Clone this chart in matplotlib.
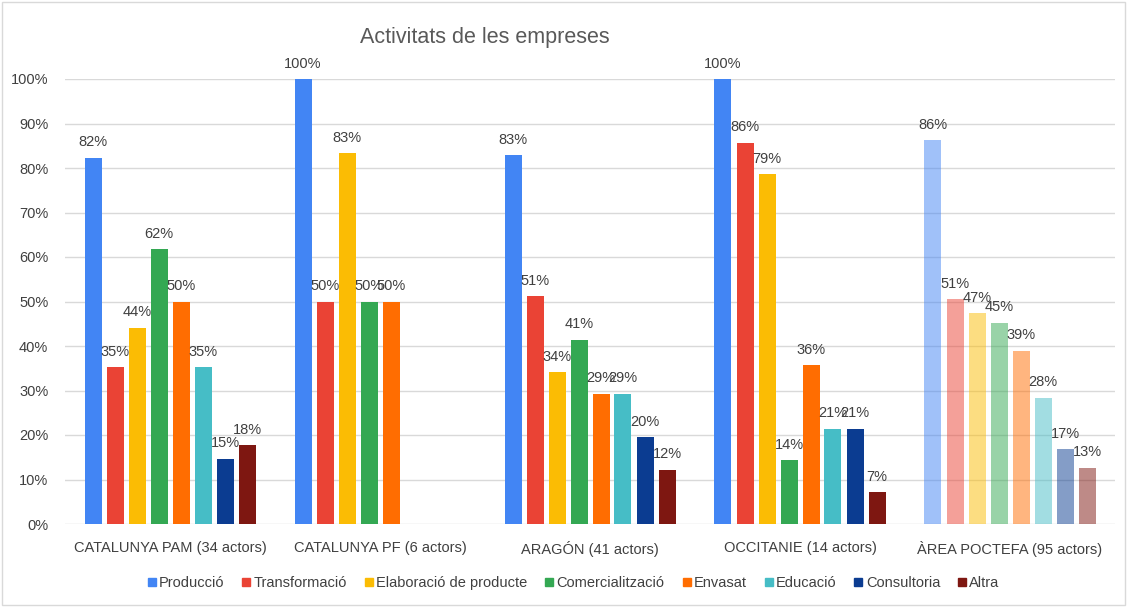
import matplotlib.pyplot as plt
import numpy as np
from matplotlib.patches import Rectangle
from matplotlib.lines import Line2D

plt.rcParams['font.family'] = ['Liberation Sans', 'DejaVu Sans']

groups = ["CATALUNYA PAM (34 actors)", "CATALUNYA PF (6 actors)", "ARAGÓN (41 actors)",
          "OCCITANIE (14 actors)", "ÀREA POCTEFA (95 actors)"]
series = ["Producció", "Transformació", "Elaboració de producte", "Comercialització",
          "Envasat", "Educació", "Consultoria", "Altra"]
colors = ["#4285F4", "#EA4335", "#FBBC04", "#34A853", "#FF6D01", "#46BDC6", "#0B3C91", "#7E1711"]

# percentatges per activitat (un valor per grup)
produccio = [82.35, 100.0, 82.93, 100.0, 86.32]
transformacio = [35.29, 50.0, 51.22, 85.71, 50.53]
elaboracio = [44.12, 83.33, 34.15, 78.57, 47.37]
comercialitzacio = [61.76, 50.0, 41.46, 14.29, 45.26]
envasat = [50.0, 50.0, 29.27, 35.71, 38.95]
educacio = [35.29, None, 29.27, 21.43, 28.42]
consultoria = [14.71, None, 19.51, 21.43, 16.84]
altra = [17.65, None, 12.20, 7.14, 12.63]
values = [produccio, transformacio, elaboracio, comercialitzacio, envasat, educacio, consultoria, altra]

fig = plt.figure(figsize=(11.27, 6.07), dpi=100)
ax = fig.add_axes([65 / 1127, 1 - 524 / 607, 1050 / 1127, 445 / 607])

n = len(series)
step = 22 / 210
width = 17 / 210
x = np.arange(len(groups))
for i, (name, vals, c) in enumerate(zip(series, values, colors)):
    off = (i - (n - 1) / 2) * step
    for g, v in enumerate(vals):
        if v is None:
            continue
        alpha = 0.5 if g == len(groups) - 1 else 1.0
        ax.bar(x[g] + off, v, width=width, color=c, alpha=alpha, zorder=3)
        ax.annotate(f"{v:.0f}%", (x[g] + off, v), xytext=(0, 6), textcoords='offset points',
                    ha='center', va='bottom', fontsize=10.5, color='#404040')

ax.set_xlim(-0.5, len(groups) - 0.5)
ax.set_ylim(0, 100)
ax.set_yticks(np.arange(0, 101, 10))
ax.set_yticklabels([f"{t}%" for t in range(0, 101, 10)])
ax.set_xticks(x)
ax.set_xticklabels(groups)
ax.tick_params(axis='both', length=0, labelsize=10.5, colors='#404040')
ax.tick_params(axis='x', pad=12)
ax.tick_params(axis='y', pad=12)
ax.grid(axis='y', color='#d9d9d9', linewidth=1, zorder=0)
for s in ax.spines.values():
    s.set_visible(False)

fig.text(485 / 1127, 1 - 38 / 607, "Activitats de les empreses", ha='center', va='center',
         fontsize=15.5, color='#595959')

handles = [Line2D([], [], marker='s', linestyle='', markersize=6, color=c) for c in colors]
fig.legend(handles, series, loc='center', bbox_to_anchor=(572 / 1127, 1 - 583 / 607), ncol=8,
           frameon=False, fontsize=10.5, handletextpad=0.0, columnspacing=1.0,
           labelcolor='#404040', handlelength=1.0)

fig.patches.append(Rectangle((2 / 1127, 2 / 607), 1 - 4 / 1127, 1 - 4 / 607,
                             transform=fig.transFigure, fill=False, edgecolor='#d9d9d9', lw=1))

fig.savefig("out.png", dpi=100)
